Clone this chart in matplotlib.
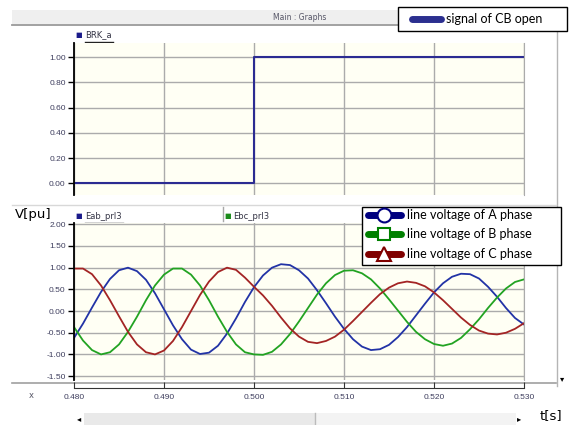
import matplotlib
matplotlib.use("Agg")
import matplotlib.pyplot as plt
from matplotlib.lines import Line2D
from matplotlib.patches import Rectangle
import numpy as np

# time axis (ms samples, 1 ms spacing)
t = np.arange(480, 531) / 1000.0

# breaker signal
brk_t = [0.480, 0.500, 0.530]
brk_v = [0.0, 1.0, 1.0]

# line voltages [pu]
eab = [-0.62, -0.29, 0.08, 0.44, 0.74, 0.94, 1.00, 0.92, 0.72, 0.41,
       0.04, -0.33, -0.65, -0.89, -0.99, -0.96, -0.80, -0.52, -0.17, 0.21,
       0.55, 0.82, 1.00, 1.08, 1.06, 0.94, 0.75, 0.48, 0.18, -0.13,
       -0.41, -0.65, -0.82, -0.90, -0.88, -0.78, -0.60, -0.37, -0.10, 0.17,
       0.43, 0.64, 0.79, 0.86, 0.85, 0.75, 0.56, 0.33, 0.07, -0.16,
       -0.31]
ebc = [-0.37, -0.68, -0.90, -1.00, -0.95, -0.77, -0.48, -0.13, 0.25, 0.59,
       0.84, 0.98, 0.98, 0.84, 0.59, 0.25, -0.13, -0.48, -0.77, -0.95,
       -1.00, -1.01, -0.94, -0.77, -0.53, -0.24, 0.07, 0.38, 0.64, 0.83,
       0.93, 0.94, 0.87, 0.73, 0.52, 0.27, 0.01, -0.25, -0.48, -0.65,
       -0.76, -0.80, -0.75, -0.62, -0.42, -0.19, 0.07, 0.31, 0.52, 0.67,
       0.73]
eca = [0.98, 0.98, 0.85, 0.59, 0.25, -0.12, -0.48, -0.77, -0.95, -1.00,
       -0.91, -0.69, -0.37, 0.00, 0.37, 0.68, 0.90, 1.00, 0.95, 0.77,
       0.56, 0.36, 0.12, -0.15, -0.40, -0.59, -0.71, -0.74, -0.69, -0.59,
       -0.43, -0.23, -0.02, 0.19, 0.39, 0.54, 0.64, 0.68, 0.65, 0.57,
       0.43, 0.25, 0.05, -0.15, -0.32, -0.45, -0.52, -0.54, -0.50, -0.41,
       -0.28]

top_ticks = [0.0, 0.2, 0.4, 0.6, 0.8, 1.0]
bot_ticks = [-1.5, -1.0, -0.5, 0.0, 0.5, 1.0, 1.5, 2.0]
x_ticks = [0.480, 0.490, 0.500, 0.510, 0.520, 0.530]

W, H = 573, 425
fig = plt.figure(figsize=(W / 100, H / 100), dpi=100)
fig.patch.set_facecolor("white")


def box(x0, y0, x1, y1):
    # pixel box -> figure fraction [left, bottom, width, height]
    return [x0 / W, 1 - y1 / H, (x1 - x0) / W, (y1 - y0) / H]


# background / window chrome in pixel coords
bg = fig.add_axes([0, 0, 1, 1], zorder=-5)
bg.set_xlim(0, W)
bg.set_ylim(H, 0)
bg.axis("off")
bg.add_patch(Rectangle((12, 10), 544, 14, color="#EFEFEF", lw=0))
bg.plot([12, 556], [24.5, 24.5], color="#9A9A9A", lw=1.3)
bg.text(300, 17.5, "Main : Graphs", fontsize=5.5, color="#555566",
        ha="center", va="center")
bg.plot([557, 557], [25, 386], color="#B5B5B5", lw=1.0)
bg.text(562, 379, "\u25be", fontsize=6, color="black", ha="center", va="center")
bg.plot([12, 556], [205, 205], color="#D8D8D8", lw=1.0)
bg.plot([223, 223], [207, 221], color="#A8A8A8", lw=1.0)
bg.plot([12, 556], [383, 383], color="#A0A0A0", lw=1.2)
bg.text(31, 395, "x", fontsize=6, color="#555566", ha="center", va="center")
bg.add_patch(Rectangle((84, 413), 432, 12, color="#F3F3F3", lw=0))
bg.add_patch(Rectangle((84, 413), 231, 12, color="#E9E9E9", lw=0))
bg.plot([315, 315], [413, 425], color="#BBBBBB", lw=1.0)
bg.text(79, 419, "\u25c2", fontsize=6, color="black", ha="center", va="center")
bg.text(519, 419, "\u25b8", fontsize=6, color="black", ha="center", va="center")

# panel headers
bg.text(79, 35, "\u25a0", fontsize=5, color="#1A1A8A", ha="center", va="center")
bg.text(85, 35, "BRK_a", fontsize=6, color="#333344", ha="left", va="center")
bg.plot([85, 113], [42, 42], color="#222222", lw=1.0)
bg.text(15, 214, "V[pu]", fontsize=9.5, color="black", ha="left", va="center")
bg.text(79, 216, "\u25a0", fontsize=5, color="#1A1A8A", ha="center", va="center")
bg.text(85, 216, "Eab_prl3", fontsize=6, color="#333344", ha="left", va="center")
bg.plot([85, 123], [222.5, 222.5], color="#222222", lw=1.0)
bg.text(228, 216, "\u25a0", fontsize=5, color="#1A8A1A", ha="center", va="center")
bg.text(233, 216, "Ebc_prl3", fontsize=6, color="#333344", ha="left", va="center")
bg.text(540, 416, "t[s]", fontsize=9.5, color="black", ha="left", va="center")

cream = "#FFFFF4"
grid_kw = dict(color="#ABABAB", lw=1.0)
lab_col = "#3E3E5E"


def style(ax, yticks):
    ax.set_facecolor(cream)
    ax.set_xlim(0.480, 0.530)
    ax.set_xticks(x_ticks)
    ax.set_yticks(yticks)
    ax.set_yticklabels([f"{v:.2f}" for v in yticks])
    ax.grid(True, **grid_kw)
    ax.tick_params(axis="x", length=0, labelbottom=False)
    ax.tick_params(axis="y", length=4, width=1, color="black",
                   labelsize=6, labelcolor=lab_col, pad=2)
    for s in ["top", "bottom"]:
        ax.spines[s].set_visible(False)
    ax.spines["right"].set_color("#ABABAB")
    ax.spines["left"].set_color("black")
    ax.spines["left"].set_linewidth(1.3)
    for lbl in ax.get_yticklabels():
        lbl.set_family("Liberation Sans")


# top: breaker signal
ax1 = fig.add_axes(box(74, 43, 524, 195))
style(ax1, top_ticks)
ax1.set_ylim(-0.093, 1.111)
ax1.plot(brk_t, brk_v, drawstyle="steps-post", color="#2B2B92", lw=1.5)

# bottom: line voltages
ax2 = fig.add_axes(box(74, 223, 524, 380))
style(ax2, bot_ticks)
ax2.set_ylim(-1.59, 2.03)
ax2.plot(t, eab, color="#2233A6", lw=1.3)
ax2.plot(t, ebc, color="#22A322", lw=1.3)
ax2.plot(t, eca, color="#A32424", lw=1.3)

# time ruler below the graphs
ax3 = fig.add_axes(box(74, 386, 524, 387.5))
ax3.set_xlim(0.480, 0.530)
ax3.set_xticks(x_ticks)
ax3.set_xticklabels([f"{v:.3f}" for v in x_ticks])
ax3.set_yticks([])
ax3.patch.set_alpha(0)
for s in ["top", "left", "right"]:
    ax3.spines[s].set_visible(False)
ax3.spines["bottom"].set_color("#333333")
ax3.tick_params(axis="x", direction="in", length=4, color="#333333",
                labelsize=6, labelcolor=lab_col, pad=5)
for lbl in ax3.get_xticklabels():
    lbl.set_family("Liberation Sans")

# boxes for the added legends (drawn over the graphs)
fg = fig.add_axes([0, 0, 1, 1], zorder=3)
fg.set_xlim(0, W)
fg.set_ylim(H, 0)
fg.axis("off")
fg.add_patch(Rectangle((398, 7), 169, 24, facecolor="white",
                       edgecolor="black", lw=1.0))
fg.add_patch(Rectangle((362, 207), 199, 58, facecolor="white",
                       edgecolor="black", lw=1.0))

leg_font = {"family": "Lato", "size": 9}
h_top = [Line2D([], [], color="#2B2F8F", lw=5, solid_capstyle="round")]
lg1 = fig.legend(h_top, ["signal of CB open"], loc="center left",
                 bbox_to_anchor=(412 / W, 1 - 19 / H), prop=leg_font,
                 frameon=False, handlelength=2.3, handletextpad=0.4,
                 borderpad=0, borderaxespad=0)
lg1.set_zorder(6)

h_bot = [
    Line2D([], [], color="#000080", lw=5, marker="o", ms=10,
           mfc="white", mec="#000080", mew=1.5, solid_capstyle="round"),
    Line2D([], [], color="#008000", lw=5, marker="s", ms=9,
           mfc="white", mec="#008000", mew=1.5, solid_capstyle="round"),
    Line2D([], [], color="#800000", lw=5, marker="^", ms=10,
           mfc="white", mec="#800000", mew=1.5, solid_capstyle="round"),
]
lg2 = fig.legend(h_bot, ["line voltage of A phase", "line voltage of B phase",
                         "line voltage of C phase"],
                 loc="upper left", bbox_to_anchor=(368 / W, 1 - 209 / H),
                 prop=leg_font, frameon=False, handlelength=2.6,
                 handletextpad=0.55, borderpad=0, labelspacing=0.6,
                 borderaxespad=0)
lg2.set_zorder(6)

fig.savefig("out.png", dpi=100)
